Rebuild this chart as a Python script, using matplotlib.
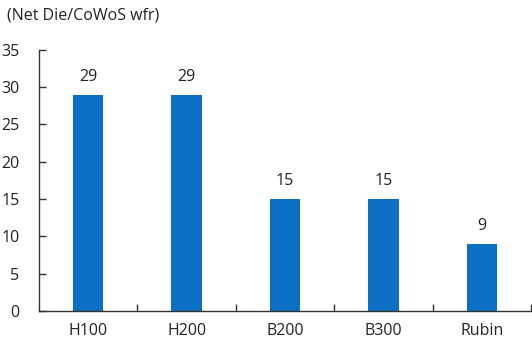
import matplotlib
matplotlib.use("Agg")
import matplotlib.pyplot as plt
from matplotlib.ticker import FixedLocator

categories = ["H100", "H200", "B200", "B300", "Rubin"]
values = [29, 29, 15, 15, 9]
yticks = [0, 5, 10, 15, 20, 25, 30, 35]

plt.rcParams['font.family'] = ['Open Sans', 'DejaVu Sans']

fig = plt.figure(figsize=(5.32, 3.4), dpi=100)
ax = fig.add_axes([0.0733, 0.0853, 0.925, 0.768])

x = list(range(len(categories)))
ax.bar(x, values, width=0.31, color="#0b6fc3")
for xi, v in zip(x, values):
    ax.text(xi, v + 1.3, str(v), ha="center", va="bottom", fontsize=11.5, color="#222222")

ax.set_xlim(-0.5, len(categories) - 0.5)
ax.set_ylim(0, 35)
ax.set_yticks(yticks)
ax.set_xticks(x)
ax.set_xticklabels(categories)
ax.xaxis.set_minor_locator(FixedLocator([i + 0.5 for i in x]))
ax.tick_params(axis="x", which="major", length=0, pad=9, labelsize=11.5, labelcolor="#222222")
ax.tick_params(axis="x", which="minor", direction="in", length=5, width=1, color="#333333")
ax.tick_params(axis="y", direction="in", length=5, width=1, color="#333333", pad=14, labelsize=11.5, labelcolor="#222222")
for s in ["top", "right"]:
    ax.spines[s].set_visible(False)
for s in ["left", "bottom"]:
    ax.spines[s].set_color("#333333")
    ax.spines[s].set_linewidth(1)

fig.text(0.013, 0.953, "(Net Die/CoWoS wfr)", fontsize=11.5, color="#222222", va="center", ha="left")

fig.savefig("out.png", dpi=100)
